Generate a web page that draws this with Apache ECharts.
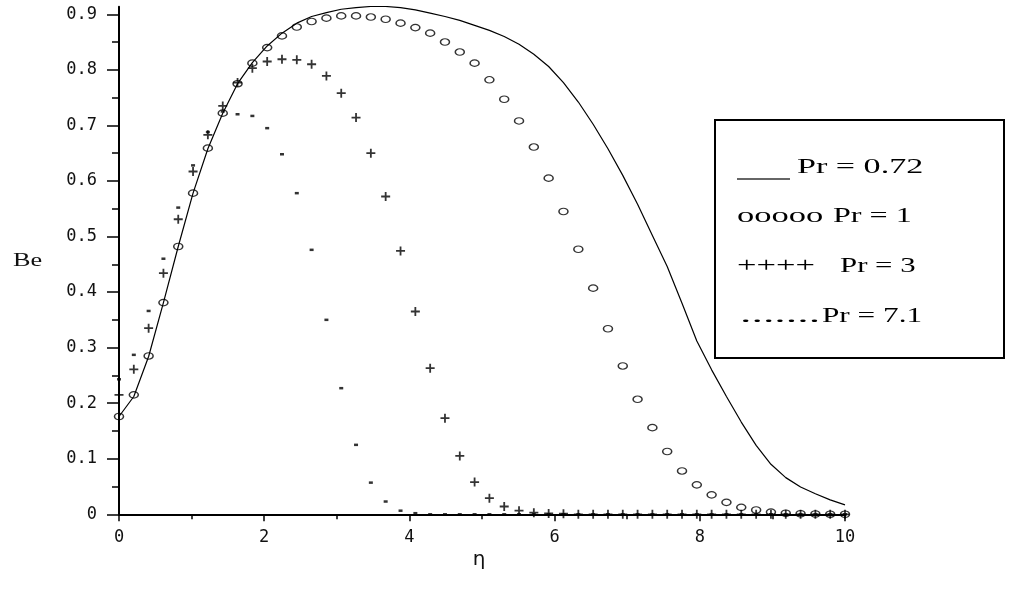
<!DOCTYPE html>
<html>
<head>
<meta charset="utf-8">
<script src="https://cdn.jsdelivr.net/npm/echarts@6/dist/echarts.min.js"></script>
<style>
html,body{margin:0;padding:0;background:#fff;}
#c{width:1024px;height:593px;}
</style>
</head>
<body>
<div id="c"></div>
<script>
// eta grid (50 points from 0 to 10)
const eta = [0,0.204,0.408,0.612,0.816,1.020,1.224,1.429,1.633,1.837,2.041,2.245,2.449,2.653,2.857,3.061,3.265,3.469,3.673,3.878,4.082,4.286,4.490,4.694,4.898,5.102,5.306,5.510,5.714,5.918,6.122,6.327,6.531,6.735,6.939,7.143,7.347,7.551,7.755,7.959,8.163,8.367,8.571,8.776,8.980,9.184,9.388,9.592,9.796,10];

const bePr072 = [0.176,0.212,0.284,0.381,0.482,0.578,0.658,0.722,0.775,0.813,0.843,0.866,0.884,0.896,0.903,0.909,0.912,0.914,0.914,0.912,0.908,0.902,0.896,0.889,0.880,0.871,0.860,0.846,0.828,0.806,0.777,0.742,0.702,0.658,0.610,0.558,0.502,0.446,0.380,0.312,0.260,0.212,0.166,0.124,0.090,0.066,0.049,0.037,0.026,0.017];

const bePr1 = [0.176,0.215,0.285,0.381,0.482,0.578,0.659,0.722,0.775,0.812,0.840,0.861,0.877,0.887,0.893,0.897,0.897,0.895,0.891,0.884,0.876,0.866,0.850,0.832,0.812,0.782,0.747,0.708,0.661,0.605,0.545,0.477,0.407,0.334,0.267,0.207,0.156,0.113,0.078,0.053,0.035,0.0215,0.0125,0.0077,0.004,0.002,0.001,0.0005,0.0002,0.0001];

const bePr3 = [0.215,0.261,0.335,0.434,0.531,0.617,0.683,0.735,0.777,0.803,0.815,0.819,0.818,0.810,0.789,0.758,0.714,0.650,0.572,0.474,0.365,0.263,0.173,0.105,0.058,0.029,0.014,0.0065,0.003,0.0015,0.001,0,0,0,0,0,0,0,0,0,0,0,0,0,0,0,0,0,0,0];

const bePr71 = [0.243,0.287,0.366,0.460,0.552,0.628,0.688,0.725,0.720,0.717,0.695,0.648,0.578,0.476,0.350,0.227,0.125,0.057,0.023,0.0065,0.002,0,0,0,0,0,0,0,0,0,0,0,0,0,0,0,0,0,0,0,0,0,0,0,0,0,0,0,0,0];

const xTicks = [0,2,4,6,8,10];
const yMajorTicks = [0,0.1,0.2,0.3,0.4,0.5,0.6,0.7,0.8,0.9];
const yMinorTicks = [0.05,0.15,0.25,0.35,0.45,0.55,0.65,0.75,0.85];

const legendRows = [
  {sym:'', label:'Pr = 0.72'},
  {sym:'ooooo', label:'Pr = 1'},
  {sym:'++++', label:'Pr = 3'},
  {sym:'.......', label:'Pr = 7.1'}
];

function pairs(vals){ return eta.map((x,i)=>[x, vals[i]]); }

const chart = echarts.init(document.getElementById('c'), null, {renderer:'canvas'});
const labelFont = {fontFamily:'DejaVu Sans Mono', fontSize:17, color:'#111'};
const serif = 'Liberation Serif';
const plusPath = 'path://M4,0H6V4H10V6H6V10H4V6H0V4H4Z';
const lf = 22;
function legText(x, y, sx, txt){
  return {type:'text', x:x, y:y, scaleX:sx, z:11,
    style:{text:txt, fontFamily:serif, fontSize:lf, fill:'#000', align:'left', verticalAlign:'middle'}};
}

const option = {
  animation:false,
  backgroundColor:'#fff',
  grid:{left:119, right:179, top:6.7, bottom:78.7, containLabel:false},
  xAxis:{
    type:'value', min:0, max:10, interval:2,
    axisLine:{show:true, onZero:true, lineStyle:{color:'#000', width:2}},
    axisTick:{show:true, length:7, lineStyle:{color:'#000', width:1.5}},
    minorTick:{show:true, splitNumber:2, length:5, lineStyle:{color:'#000', width:1.5}},
    axisLabel:Object.assign({margin:15, customValues:xTicks}, labelFont),
    splitLine:{show:false}, minorSplitLine:{show:false}
  },
  yAxis:[
    {
      type:'value', min:0, max:0.9136, interval:0.1,
      axisLine:{show:true, lineStyle:{color:'#000', width:2}},
      axisTick:{show:true, length:12, customValues:yMajorTicks, lineStyle:{color:'#000', width:1.5}},
      axisLabel:Object.assign({margin:22, customValues:yMajorTicks}, labelFont),
      splitLine:{show:false}
    },
    {
      type:'value', min:0, max:0.9136, interval:0.1, position:'left',
      axisLine:{show:false},
      axisTick:{show:true, length:7, customValues:yMinorTicks, lineStyle:{color:'#000', width:1.5}},
      axisLabel:{show:false},
      splitLine:{show:false}
    }
  ],
  series:[
    {
      name:'Pr = 0.72', type:'line', data:pairs(bePr072), showSymbol:false, smooth:false,
      lineStyle:{color:'#000', width:1.2}, z:3
    },
    {
      name:'Pr = 1', type:'scatter', data:pairs(bePr1), symbol:'circle', symbolSize:[9,6.5],
      itemStyle:{color:'rgba(0,0,0,0)', borderColor:'#000', borderWidth:1.3}, z:4
    },
    {
      name:'Pr = 3', type:'scatter', data:pairs(bePr3), symbol:plusPath, symbolSize:9,
      itemStyle:{color:'#000'}, z:4
    },
    {
      name:'Pr = 7.1', type:'scatter', data:pairs(bePr71), symbol:'rect', symbolSize:[4,2.5],
      itemStyle:{color:'#000'}, z:4
    }
  ],
  graphic:[
    {type:'text', x:13, y:261, scaleX:1.38, style:{text:'Be', fontFamily:serif, fontSize:19, fill:'#111', align:'left', verticalAlign:'middle'}},
    {type:'text', x:479, y:560, style:{text:'η', fontFamily:'DejaVu Sans', fontSize:20, fill:'#111', align:'center', verticalAlign:'middle'}},
    {type:'rect', shape:{x:715, y:120, width:289, height:238}, style:{fill:'#fff', stroke:'#000', lineWidth:2}, z:10},
    {type:'line', shape:{x1:737, y1:179, x2:790, y2:179}, style:{stroke:'#333', lineWidth:1.6}, z:11},
    legText(797, 167, 1.55, legendRows[0].label),
    legText(737, 216, 1.57, legendRows[1].sym),
    legText(833, 216, 1.46, legendRows[1].label),
    legText(737, 266, 1.57, legendRows[2].sym),
    legText(840, 266, 1.40, legendRows[2].label),
    legText(740, 316, 2.08, legendRows[3].sym),
    legText(822, 316, 1.42, legendRows[3].label)
  ]
};
chart.setOption(option);
</script>
</body>
</html>
